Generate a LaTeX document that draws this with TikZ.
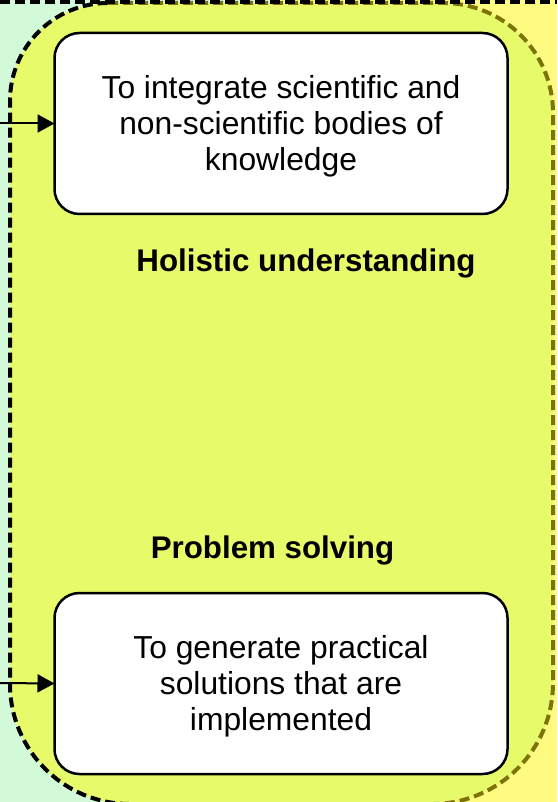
\documentclass[tikz,border=0pt]{standalone}
\usepackage{fontspec}
\setmainfont{Liberation Sans}
\usetikzlibrary{positioning, arrows.meta}
\definecolor{mint}{RGB}{210,250,216}
\definecolor{lima}{RGB}{230,250,106}
\definecolor{limon}{RGB}{255,250,128}
\definecolor{oliva}{RGB}{125,115,10}
\tikzset{
	aim/.style={
		rectangle, draw=black, fill=white, line width=2.5pt, rounded corners=25pt,
		minimum width=453pt, minimum height=181pt, outer sep=0pt, align=center,
		font=\fontsize{31.8}{36}\selectfont
	},
	header/.style={font=\fontsize{31.3}{36}\selectfont\bfseries, anchor=base},
	borde/.style={line width=4pt, dash pattern=on 10pt off 5pt},
	feed/.style={line width=2pt, -{Triangle[length=17pt, width=18pt]}}
}

\begin{document}
\begin{tikzpicture}[x=1pt, y=-1pt]
	\useasboundingbox (0,0) rectangle (557,802);
	\fill[mint] (0,0) rectangle (280,802);
	\fill[limon] (280,0) rectangle (557,802);
	\fill[lima] (108,3) -- (443,3) arc[start angle=90, end angle=0, radius=110pt] -- (553,683) arc[start angle=0, end angle=-90, radius=121pt] -- (130,804) arc[start angle=270, end angle=180, radius=120pt] -- (10,101) arc[start angle=180, end angle=90, radius=98pt] -- cycle;
	
	\draw[borde, oliva] (108,3) -- (443,3) arc[start angle=90, end angle=0, radius=110pt] -- (553,683) arc[start angle=0, end angle=-90, radius=121pt];
	\draw[borde] (130,804) arc[start angle=270, end angle=180, radius=120pt] -- (10,101) arc[start angle=180, end angle=90, radius=98pt];
	\draw[borde] (0,2.5) -- (557,2.5);
	
	\node [aim] (integ) at (281,123.5) {\rule{0pt}{28pt}To integrate scientific and\\non-scientific bodies of\\knowledge};
	\node [aim, below = 379pt of integ] (solve) {\rule{0pt}{28pt}To generate practical\\solutions that are\\implemented};
	
	\node [header] (holis) at (306,271.7) {Holistic understanding};
	\node [header] (prob) at (272.5,558) {Problem solving};
	
	\coordinate (in1) at (0,123.5);
	\coordinate (in2) at (0,683);
	\draw[feed] (in1) -- (integ.west);
	\draw[feed] (in2) -- (solve.west);
\end{tikzpicture}
\end{document}
